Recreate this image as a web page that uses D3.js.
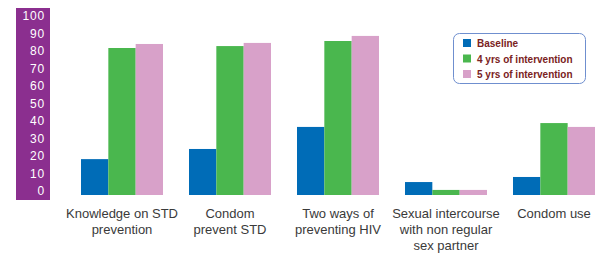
<!DOCTYPE html>
<html>
<head>
<meta charset="utf-8">
<script src="https://cdn.jsdelivr.net/npm/d3@7"></script>
<style>
  body { margin: 0; background: #fff; }
  svg { display: block; }
  .tick-label { font-family: "Liberation Sans", Arial, sans-serif; font-size: 12px; fill: #fff; letter-spacing: 0.8px; }
  .cat-label { font-family: "Liberation Sans", Arial, sans-serif; font-size: 13px; fill: #3a3a3a; }
  .legend-label { font-family: "Liberation Sans", Arial, sans-serif; font-size: 10px; font-weight: bold; fill: #7a2222; }
</style>
</head>
<body>
<div id="chart"></div>
<script>
const categories = [
  ["Knowledge on STD", "prevention"],
  ["Condom", "prevent STD"],
  ["Two ways of", "preventing HIV"],
  ["Sexual intercourse", "with non regular", "sex partner"],
  ["Condom use"],
];
const seriesNames = ["Baseline", "4 yrs of intervention", "5 yrs of intervention"];
const baseline = [20.5, 26.3, 38.9, 7.4, 10.3];
const fourYears = [84, 85.1, 88, 2.9, 41.1];
const fiveYears = [86.3, 86.9, 90.9, 2.9, 38.9];
const yTicks = [0, 10, 20, 30, 40, 50, 60, 70, 80, 90, 100];
const colors = ["#006cb7", "#4ab74e", "#d8a1c9"];

const width = 598;
const height = 253;

const svg = d3
  .select("#chart")
  .append("svg")
  .attr("width", width)
  .attr("height", height);

const data = categories.map((c, i) => ({
  label: c,
  values: [baseline[i], fourYears[i], fiveYears[i]],
}));

const yScale = d3.scaleLinear().domain([0, 100]).range([195, 20]);

const xScale = d3
  .scaleBand()
  .domain(d3.range(categories.length))
  .range([81, 595])
  .paddingInner(0.2407)
  .paddingOuter(0);

const xInner = d3
  .scaleBand()
  .domain(d3.range(seriesNames.length))
  .range([0, xScale.bandwidth()]);

// purple axis band
svg
  .append("rect")
  .attr("x", 16)
  .attr("y", 8)
  .attr("width", 34)
  .attr("height", 192)
  .attr("fill", "#8b2f8f");

svg
  .append("g")
  .selectAll("text")
  .data(yTicks)
  .enter()
  .append("text")
  .attr("class", "tick-label")
  .attr("x", 45)
  .attr("y", (d) => yScale(d))
  .attr("text-anchor", "end")
  .text((d) => d);

const groups = svg
  .append("g")
  .selectAll("g")
  .data(data)
  .enter()
  .append("g")
  .attr("transform", (d, i) => `translate(${xScale(i)}, 0)`);

groups
  .selectAll("rect")
  .data((d) => d.values)
  .enter()
  .append("rect")
  .attr("x", (d, i) => xInner(i))
  .attr("width", xInner.bandwidth())
  .attr("y", (d) => yScale(d))
  .attr("height", (d) => yScale(0) - yScale(d))
  .attr("fill", (d, i) => colors[i]);

groups
  .append("text")
  .attr("class", "cat-label")
  .attr("text-anchor", "middle")
  .attr("x", xScale.bandwidth() / 2)
  .attr("y", 218)
  .selectAll("tspan")
  .data((d) => d.label)
  .enter()
  .append("tspan")
  .attr("x", xScale.bandwidth() / 2)
  .attr("dy", (d, i) => (i === 0 ? 0 : 16))
  .text((d) => d);

// legend
const legend = svg.append("g").attr("transform", "translate(453, 33)");

legend
  .append("rect")
  .attr("x", 0.5)
  .attr("y", 0.5)
  .attr("width", 132)
  .attr("height", 50)
  .attr("rx", 6)
  .attr("fill", "#fff")
  .attr("stroke", "#6f8fcf")
  .attr("stroke-width", 1);

const legendItems = legend
  .selectAll(".legend-item")
  .data(seriesNames)
  .enter()
  .append("g")
  .attr("class", "legend-item")
  .attr("transform", (d, i) => `translate(10, ${6 + i * 15.5})`);

legendItems
  .append("rect")
  .attr("width", 8)
  .attr("height", 8)
  .attr("fill", (d, i) => colors[i]);

legendItems
  .append("text")
  .attr("class", "legend-label")
  .attr("x", 14)
  .attr("y", 8)
  .text((d) => d);
</script>
</body>
</html>
